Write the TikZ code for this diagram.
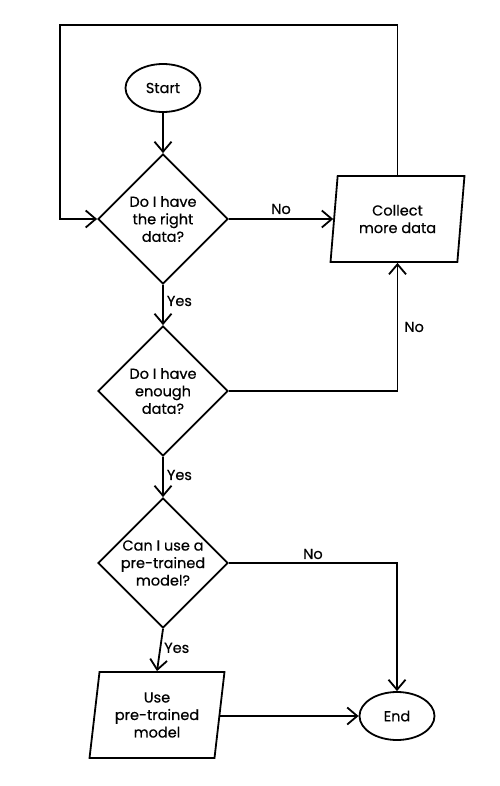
\documentclass[tikz,border=0pt]{standalone}
\usepackage{fontspec}
\setmainfont{Poppins}[FakeBold=0.5]
\usetikzlibrary{shapes.geometric,arrows.meta}
\tikzset{
  base/.style={draw=black, line width=1.8pt, font=\fontsize{14.5}{17.5}\selectfont, align=center, inner sep=0pt},
  term/.style={base, ellipse, minimum width=75pt, minimum height=48pt},
  decision/.style={base, diamond, minimum width=130pt, minimum height=130pt, aspect=1},
  io/.style={base, trapezium, trapezium left angle=80.8, trapezium right angle=99.2, trapezium stretches=true, minimum width=135pt, minimum height=86pt},
  arr/.style={line width=1.8pt, -{Straight Barb[length=10pt,width=17pt,line width=1.8pt]}},
  lbl/.style={font=\fontsize{14.5}{17}\selectfont, inner sep=1pt}
}
\begin{document}
\begin{tikzpicture}[x=1pt,y=-1pt]
\useasboundingbox (0,0) rectangle (499,786);
\node[term] (start) at (163,88) {Start};
\node[decision] (d1) at (163,219) {Do I have\\the right\\data?};
\node[io] (collect) at (397.5,219) {Collect\\more data};
\node[decision] (d2) at (163,391) {Do I have\\enough\\data?};
\node[decision] (d3) at (163,563) {Can I use a\\pre-trained\\model?};
\node[io] (use) at (157,715) {Use\\pre-trained\\model};
\node[term] (end) at (397,716) {End};
\coordinate (tl) at (60,25);

\draw[arr] (start) -- (d1.north);
\draw[arr] (collect.north -| collect.center) |- (tl) |- (d1.west);
\draw[arr] (d1.east) -- (collect.west) node[lbl, pos=0.5, above=3pt] (no1) {No};
\draw[arr] (d1.south) -- (d2.north) node[lbl, pos=0.4, right=2pt] (yes1) {Yes};
\draw[arr] (d2.east) -| (collect.south -| collect.center) node[lbl, pos=0.75, right=5pt] (no2) {No};
\draw[arr] (d2.south) -- (d3.north) node[lbl, pos=0.45, right=2pt] (yes2) {Yes};
\draw[arr] (d3.east) -| (end.north) node[lbl, pos=0.25, above=2pt] (no3) {No};
\draw[arr] (d3.south) -- (use.north) node[lbl, pos=0.45, right=2pt] (yes3) {Yes};
\draw[arr] (use.east |- end.west) -- (end.west);
\end{tikzpicture}
\end{document}
